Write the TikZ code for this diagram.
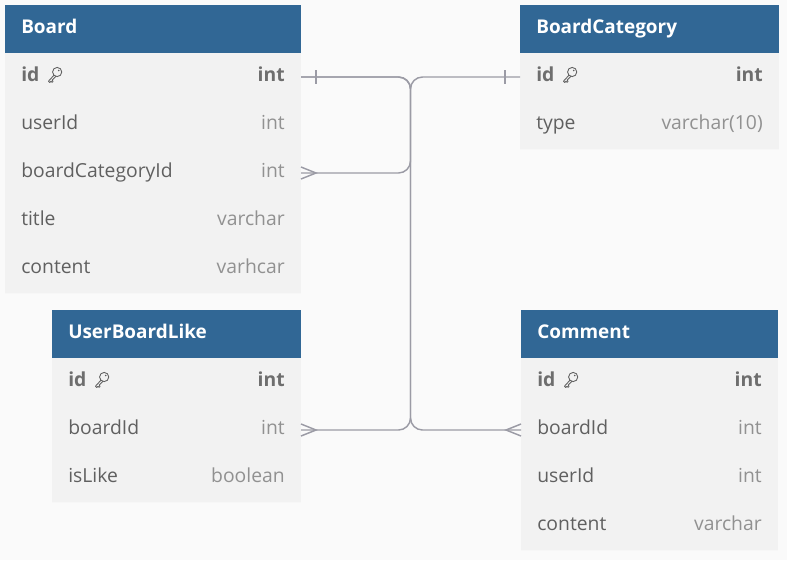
\documentclass[tikz,border=0pt]{standalone}
\usepackage{fontspec}
\setmainfont{Open Sans}
\definecolor{hdr}{RGB}{49,103,149}
\definecolor{rowbg}{RGB}{242,242,242}
\definecolor{pagebg}{RGB}{250,250,250}
\definecolor{sepc}{RGB}{247,247,247}
\definecolor{fieldc}{RGB}{96,96,96}
\definecolor{typec}{RGB}{145,145,145}
\definecolor{boldc}{RGB}{110,110,110}
\definecolor{linec}{RGB}{155,155,165}
\newcommand\erow[6]{%
  \node[rowbox, minimum width=#2*0.75pt] (#1) at (#3,#4) {};
  \draw[sepline] (#1.south west) -- (#1.south east);
  \node[fieldtxt] (#1-f) at ([xshift=12pt]#1.west) {#5};
  \node[typetxt] (#1-t) at ([xshift=-12pt]#1.east) {#6};
}
\newcommand\ehead[5]{%
  \node[hdrbox, minimum width=#2*0.75pt] (#1) at (#3,#4) {};
  \node[hdrtxt] (#1-title) at ([xshift=12pt]#1.west) {#5};
}
\tikzset{
  rowbox/.style={anchor=north west, fill=rowbg, draw=none, minimum height=36pt, inner sep=0pt, outer sep=0pt},
  hdrbox/.style={anchor=north west, fill=hdr, draw=none, minimum height=36pt, inner sep=0pt, outer sep=0pt},
  sepline/.style={draw=sepc, line width=0.75pt},
  fieldtxt/.style={anchor=west, inner sep=0pt, text=fieldc, font=\fontsize{14.5}{16}\selectfont, text height=1.6ex, text depth=0.4ex},
  typetxt/.style={anchor=east, inner sep=0pt, text=typec, font=\fontsize{14.5}{16}\selectfont, text height=1.6ex, text depth=0.4ex},
  hdrtxt/.style={anchor=west, inner sep=0pt, text=white, font=\bfseries\fontsize{14.2}{16}\selectfont, text height=1.6ex, text depth=0.4ex},
  conn/.style={draw=linec, line width=1.1pt, rounded corners=9pt},
  endmark/.style={draw=linec, line width=1.1pt},
  pkkey/.pic={
    \draw[draw=fieldc, line width=0.65pt] (9.5,-5) circle (4.6);
    \fill[fieldc] (11,-6.5) circle (0.9);
    \draw[draw=fieldc, line width=0.65pt, line cap=round, line join=round]
      (6.3,-1.8) -- (0.8,4.2) -- (2.1,5.5) -- (3.3,4.3) -- (4.4,5.4) -- (5.5,4.3) -- (4.4,3.2) -- (8.1,-0.6);
  }
}
\begin{document}
\begin{tikzpicture}[x=0.75pt, y=-0.75pt]
\fill[pagebg] (0,0) rectangle (787,560);
\useasboundingbox (0,0) rectangle (787,560);

% Board
\ehead{board}{296}{5}{5}{Board}
\erow{board-id}{296}{5}{53}{\textbf{\color{boldc}id}}{\textbf{\color{boldc}int}}
\erow{board-userid}{296}{5}{101}{userId}{int}
\erow{board-bcid}{296}{5}{149}{boardCategoryId}{int}
\erow{board-title}{296}{5}{197}{title}{varchar}
\erow{board-content}{296}{5}{245}{content}{varhcar}
\pic at ([xshift=6pt]board-id-f.east) {pkkey};

% BoardCategory
\ehead{bc}{259}{520}{5}{BoardCategory}
\erow{bc-id}{259}{520}{53}{\textbf{\color{boldc}id}}{\textbf{\color{boldc}int}}
\erow{bc-type}{259}{520}{101}{type}{varchar(10)}
\pic at ([xshift=6pt]bc-id-f.east) {pkkey};

% UserBoardLike
\ehead{ubl}{249}{52}{310}{UserBoardLike}
\erow{ubl-id}{249}{52}{358}{\textbf{\color{boldc}id}}{\textbf{\color{boldc}int}}
\erow{ubl-boardid}{249}{52}{406}{boardId}{int}
\erow{ubl-islike}{249}{52}{454}{isLike}{boolean}
\pic at ([xshift=6pt]ubl-id-f.east) {pkkey};

% Comment
\ehead{cm}{257}{521}{310}{Comment}
\erow{cm-id}{257}{521}{358}{\textbf{\color{boldc}id}}{\textbf{\color{boldc}int}}
\erow{cm-boardid}{257}{521}{406}{boardId}{int}
\erow{cm-userid}{257}{521}{454}{userId}{int}
\erow{cm-content}{257}{521}{502}{content}{varchar}
\pic at ([xshift=6pt]cm-id-f.east) {pkkey};

% connectors
\coordinate (trunk) at (410.5,77);
\draw[conn] (board-id.east) -- (trunk |- board-id.east) -- (trunk |- ubl-boardid.west) -- (ubl-boardid.east);
\draw[conn] (board-id.east) -- (trunk |- board-id.east) -- (trunk |- cm-boardid.west) -- (cm-boardid.west);
\draw[conn] (bc-id.west) -- (trunk |- bc-id.west) -- (trunk |- board-bcid.east) -- (board-bcid.east);

% one marks
\draw[endmark] ([xshift=11.25pt, yshift=5.25pt]board-id.east) -- ([xshift=11.25pt, yshift=-5.25pt]board-id.east);
\draw[endmark] ([xshift=-11.25pt, yshift=5.25pt]bc-id.west) -- ([xshift=-11.25pt, yshift=-5.25pt]bc-id.west);
% many marks
\draw[endmark] ([yshift=4.5pt]board-bcid.east) -- ([xshift=11.25pt]board-bcid.east) -- ([yshift=-4.5pt]board-bcid.east);
\draw[endmark] ([yshift=4.5pt]ubl-boardid.east) -- ([xshift=11.25pt]ubl-boardid.east) -- ([yshift=-4.5pt]ubl-boardid.east);
\draw[endmark] ([yshift=4.5pt]cm-boardid.west) -- ([xshift=-11.25pt]cm-boardid.west) -- ([yshift=-4.5pt]cm-boardid.west);
\end{tikzpicture}
\end{document}
